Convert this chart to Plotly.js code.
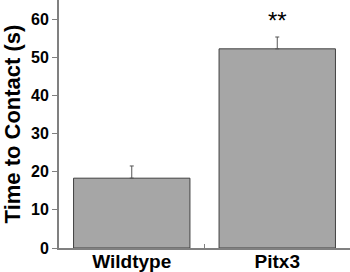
<!DOCTYPE html>
<html><head><meta charset="utf-8">
<script src="https://cdn.plot.ly/plotly-3.0.1.min.js"></script>
<style>body{margin:0;padding:0;background:#fff}#chart{width:350px;height:272px}</style>
</head><body><div id="chart"></div>
<script>
const categories = ["Wildtype", "Pitx3"];
const means = [18.3, 52.2];
const errorsUp = [3.2, 3.1];
const yTicks = [0, 10, 20, 30, 40, 50, 60];
const significance = "**";

const trace = {
  type: "bar",
  x: categories,
  y: means,
  width: 0.8,
  marker: {color: "#a6a6a6", line: {color: "#404040", width: 1}},
  error_y: {type: "data", symmetric: false, array: errorsUp, arrayminus: [0, 0],
            color: "#555555", thickness: 1, width: 2}
};
const layout = {
  width: 350, height: 272,
  margin: {l: 59, r: 0, t: 0, b: 24},
  paper_bgcolor: "#fff", plot_bgcolor: "#fff",
  showlegend: false,
  font: {family: "Liberation Sans, Arial, sans-serif", color: "#000"},
  xaxis: {
    type: "category", range: [-0.5, 1.5],
    showline: true, linecolor: "#808080", linewidth: 2,
    ticks: "inside", ticklen: 4, tickcolor: "#808080", tickson: "boundaries",
    ticklabelstandoff: -5,
    tickfont: {size: 19, family: "Liberation Sans, Arial, sans-serif", weight: "bold"},
    showgrid: false, zeroline: false
  },
  yaxis: {
    range: [0, 65], tickvals: yTicks,
    showline: true, linecolor: "#808080", linewidth: 2,
    ticks: "outside", ticklen: 5, tickcolor: "#808080",
    tickfont: {size: 16, family: "Liberation Sans, Arial, sans-serif", weight: "bold"},
    showgrid: false, zeroline: false,
    title: {text: "Time to Contact (s)", standoff: 6,
            font: {size: 22, family: "Liberation Sans, Arial, sans-serif", weight: "bold"}}
  },
  annotations: [{x: categories[1], y: 59.5, xref: "x", yref: "y", text: significance,
    showarrow: false, font: {size: 24, family: "Liberation Sans, Arial, sans-serif"}}]
};
Plotly.newPlot("chart", [trace], layout, {displayModeBar: false, staticPlot: true});
</script></body></html>
